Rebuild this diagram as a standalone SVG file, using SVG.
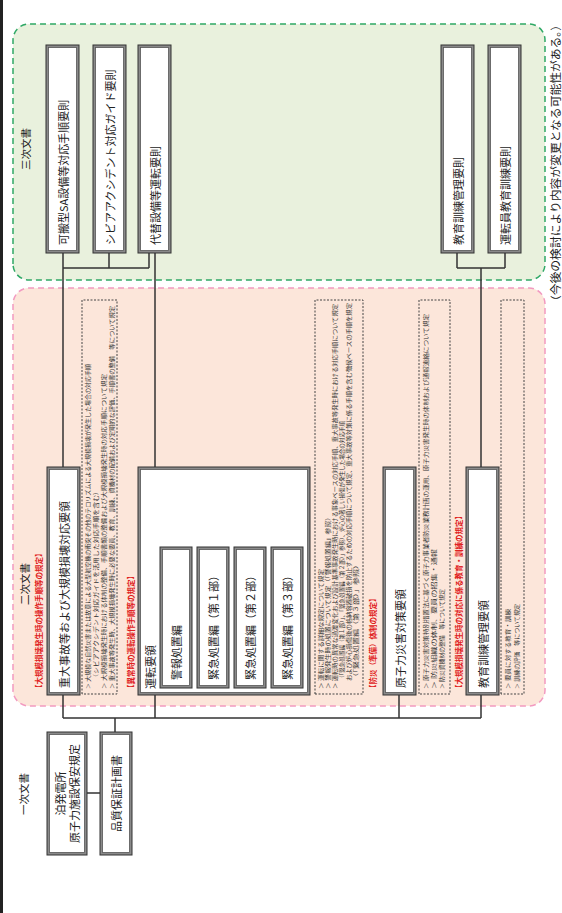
<svg xmlns="http://www.w3.org/2000/svg" width="562" height="913" viewBox="0 0 562 913">
<style>
text{font-family:"Noto Sans CJK JP","Noto Sans",sans-serif;fill:#222}
.bt{font-size:11px;dominant-baseline:central}
.lbl{font-size:10.5px;dominant-baseline:central}
.red{font-size:7.5px;fill:#e02020;dominant-baseline:central;font-weight:bold}
.nt{font-size:5.6px;fill:#333;dominant-baseline:central}
.o{fill:#8a8a8a;stroke:#333;stroke-width:1}
.i{fill:#fff;stroke:#555;stroke-width:0.8}
.dot{fill:none;stroke:#444;stroke-width:1;stroke-dasharray:2 1.5}
.c{fill:none;stroke:#333;stroke-width:1.5}
</style>
<rect x="0" y="0" width="562" height="913" fill="#fff"/>
<rect x="0" y="0" width="3" height="913" fill="#222"/>
<g transform="translate(0,913) rotate(-90)">
  <g id="region-3">
    <rect x="633" y="13" width="256" height="532" rx="16" fill="#e9f1dd" stroke="#2fa866" stroke-width="1.5" stroke-dasharray="6 4"/>
    <text class="lbl" x="743" y="25">三次文書</text>
  </g>
  <g id="region-2">
    <rect x="207" y="13" width="418" height="532" rx="16" fill="#fce6da" stroke="#f29ac0" stroke-width="1.5" stroke-dasharray="6 4"/>
    <text class="lbl" x="308" y="24">二次文書</text>
  </g>
  <text id="label-1" class="lbl" x="98" y="23">一次文書</text>
  <text id="note" x="606" y="554.5" font-size="11" dominant-baseline="central" textLength="288" lengthAdjust="spacingAndGlyphs">（今後の検討により内容が変更となる可能性がある。）</text>

  <g id="connectors">
    <path class="c" d="M660,63 L446,63 M660,109 L645,109 M660,149 L645,149 M645,63 L645,149 M660,155 L446,155"/>
    <path class="c" d="M660,457 L645,457 M660,505 L645,505 M645,457 L645,505 M645,481 L446,481"/>
    <path class="c" d="M218,63 L195,63 M218,155 L195,155 M218,399 L195,399 M218,481 L195,481 M195,63 L195,481 M195,115 L181,115 M120,87 L120,100"/>
  </g>

  <!-- 三次文書 -->
  <g id="n-kahan"><rect class="o" x="660" y="46" width="208" height="33"/><rect class="i" x="662.5" y="48.5" width="203" height="28"/><text class="bt" x="668" y="62.5">可搬型SA設備等対応手順要則</text></g>
  <g id="n-sa"><rect class="o" x="660" y="93" width="208" height="33"/><rect class="i" x="662.5" y="95.5" width="203" height="28"/><text class="bt" x="668" y="109.5">シビアアクシデント対応ガイド要則</text></g>
  <g id="n-daitai"><rect class="o" x="660" y="138" width="208" height="33"/><rect class="i" x="662.5" y="140.5" width="203" height="28"/><text class="bt" x="668" y="154.5">代替設備等運転要則</text></g>
  <g id="n-kyoiku3"><rect class="o" x="660" y="441" width="208" height="33"/><rect class="i" x="662.5" y="443.5" width="203" height="28"/><text class="bt" x="668" y="457.5">教育訓練管理要則</text></g>
  <g id="n-untenin"><rect class="o" x="660" y="488" width="208" height="33"/><rect class="i" x="662.5" y="490.5" width="203" height="28"/><text class="bt" x="668" y="504.5">運転員教育訓練要則</text></g>

  <!-- 二次文書 -->
  <text class="red" x="221" y="38.5">【大規模損壊発生時の操作手順等の規定】</text>
  <g id="n-judai"><rect class="o" x="218" y="47" width="228" height="33"/><rect class="i" x="220.5" y="49.5" width="223" height="28"/><text class="bt" x="225" y="63.5">重大事故等および大規模損壊対応要領</text></g>
  <g id="note-judai">
    <rect class="dot" x="219" y="82" width="394" height="35"/>
    <text class="nt" x="224" y="88" textLength="325" lengthAdjust="spacingAndGlyphs">＞ 大規模な自然災害または故意による大型航空機の衝突その他のテロリズムによる大規模損壊が発生した場合の対応手順</text>
    <text class="nt" x="232" y="96" textLength="193" lengthAdjust="spacingAndGlyphs">（シビアアクシデント対応ガイドを活用した対応手順を含む）</text>
    <text class="nt" x="224" y="104" textLength="315" lengthAdjust="spacingAndGlyphs">＞ 大規模損壊発生時における体制の整備、手順書類の整備および大規模損壊発生時の対応手順について規定</text>
    <text class="nt" x="224" y="112" textLength="383" lengthAdjust="spacingAndGlyphs">＞ 重大事故等発生時、大規模損壊発生時に必要な要員、教育、訓練、資機材の配備および定期的な評価、手順書の整備　等について規定</text>
  </g>

  <text class="red" x="221" y="130">【異常時の運転操作手順等の規定】</text>
  <g id="n-unten">
    <rect class="o" x="218" y="138" width="228" height="172"/><rect class="i" x="220.5" y="140.5" width="223" height="167"/>
    <text class="bt" x="224" y="150" font-size="10.5">運転要領</text>
    <g id="n-keiho"><rect class="o" x="225" y="160" width="141" height="32"/><rect class="i" x="227.5" y="162.5" width="136" height="27"/><text class="bt" x="233" y="176">警報処置編</text></g>
    <g id="n-kinkyu1"><rect class="o" x="225" y="197" width="141" height="32"/><rect class="i" x="227.5" y="199.5" width="136" height="27"/><text class="bt" x="233" y="213">緊急処置編（第１部）</text></g>
    <g id="n-kinkyu2"><rect class="o" x="225" y="234" width="141" height="32"/><rect class="i" x="227.5" y="236.5" width="136" height="27"/><text class="bt" x="233" y="250">緊急処置編（第２部）</text></g>
    <g id="n-kinkyu3"><rect class="o" x="225" y="271" width="141" height="32"/><rect class="i" x="227.5" y="273.5" width="136" height="27"/><text class="bt" x="233" y="287">緊急処置編（第３部）</text></g>
  </g>
  <g id="note-unten">
    <rect class="dot" x="219" y="315" width="394" height="48"/>
    <text class="nt" x="224" y="321" textLength="120" lengthAdjust="spacingAndGlyphs">＞ 運転に関する詳細な規定について規定</text>
    <text class="nt" x="224" y="328" textLength="175" lengthAdjust="spacingAndGlyphs">＞ 警報発生時の処置について規定（「警報処置編」参照）</text>
    <text class="nt" x="224" y="335" textLength="385" lengthAdjust="spacingAndGlyphs">＞ 運転時の異常な過渡変化および設計基準事故発生時における事象ベースの対応手順、重大事故等発生時における対応手順について規定</text>
    <text class="nt" x="232" y="342" textLength="260" lengthAdjust="spacingAndGlyphs">（「緊急処置編（第１部）」、「緊急処置編（第２部）」参照）、炉心の著しい損傷が発生した場合の対応手順</text>
    <text class="nt" x="232" y="349" textLength="378" lengthAdjust="spacingAndGlyphs">および炉心損傷後の格納容器破損を防止するための対応手順について規定、重大事故等対策に係る手順を含む徴候ベースの手順を規定</text>
    <text class="nt" x="232" y="356" textLength="120" lengthAdjust="spacingAndGlyphs">（「緊急処置編（第３部）」参照）</text>
  </g>

  <text class="red" x="221" y="372">【防災（準備）体制の規定】</text>
  <g id="n-genshi"><rect class="o" x="218" y="383" width="228" height="33"/><rect class="i" x="220.5" y="385.5" width="223" height="28"/><text class="bt" x="225" y="399.5">原子力災害対策要領</text></g>
  <g id="note-genshi">
    <rect class="dot" x="219" y="419" width="394" height="31"/>
    <text class="nt" x="224" y="426" textLength="375" lengthAdjust="spacingAndGlyphs">＞ 原子力災害対策特別措置法に基づく原子力事業者防災業務計画の運用、原子力災害発生時の体制および通報連絡について規定</text>
    <text class="nt" x="224" y="434" textLength="140" lengthAdjust="spacingAndGlyphs">＞ 防災組織の体制、要員の招集・通報</text>
    <text class="nt" x="224" y="442" textLength="100" lengthAdjust="spacingAndGlyphs">＞ 防災資機材の整備　等について規定</text>
  </g>

  <text class="red" x="221" y="458">【大規模損壊発生時の対応に係る教育・訓練の規定】</text>
  <g id="n-kyoiku2"><rect class="o" x="218" y="466" width="228" height="33"/><rect class="i" x="220.5" y="468.5" width="223" height="28"/><text class="bt" x="225" y="482.5">教育訓練管理要領</text></g>
  <g id="note-kyoiku">
    <rect class="dot" x="219" y="501" width="394" height="23"/>
    <text class="nt" x="224" y="508" textLength="80" lengthAdjust="spacingAndGlyphs">＞ 要員に対する教育・訓練</text>
    <text class="nt" x="224" y="517" textLength="85" lengthAdjust="spacingAndGlyphs">＞ 訓練の評価　等について規定</text>
  </g>

  <!-- 一次文書 -->
  <g id="n-tomari"><rect class="o" x="58" y="47" width="123" height="40"/><rect class="i" x="60.5" y="49.5" width="118" height="35"/>
    <text class="bt" x="119.5" y="60" text-anchor="middle">泊発電所</text>
    <text class="bt" x="119.5" y="74" text-anchor="middle">原子力施設保安規定</text></g>
  <g id="n-qa"><rect class="o" x="58" y="100" width="123" height="32"/><rect class="i" x="60.5" y="102.5" width="118" height="27"/>
    <text class="bt" x="119.5" y="116" text-anchor="middle">品質保証計画書</text></g>
</g>
</svg>
